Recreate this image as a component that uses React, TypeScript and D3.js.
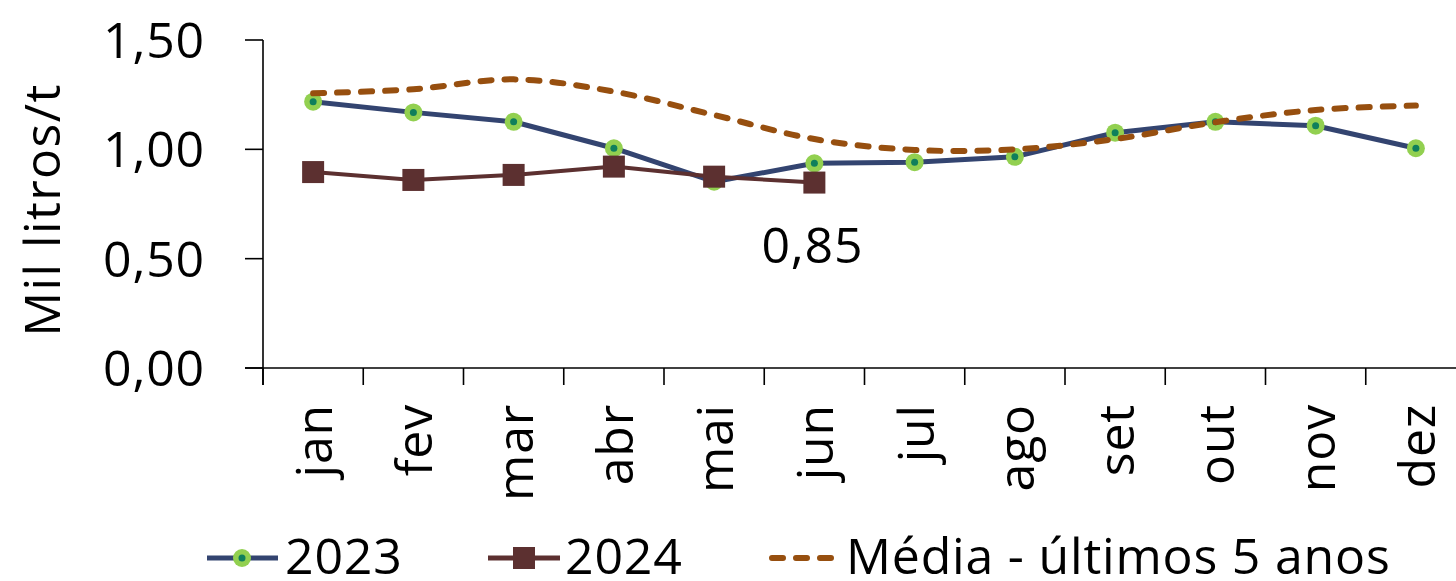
import React from "react";
import * as d3 from "d3";

const months = ["jan", "fev", "mar", "abr", "mai", "jun", "jul", "ago", "set", "out", "nov", "dez"];
const values2023 = [1.218, 1.169, 1.126, 1.005, 0.852, 0.936, 0.941, 0.966, 1.076, 1.126, 1.108, 1.005];
const values2024 = [0.896, 0.86, 0.883, 0.921, 0.875, 0.848];
const valuesMedia = [1.256, 1.275, 1.32, 1.264, 1.157, 1.047, 0.997, 1.0, 1.047, 1.124, 1.18, 1.2];
const yTicks = [0, 0.5, 1.0, 1.5];
const labelText = "0,85";
const legendLabels = ["2023", "2024", "Média - últimos 5 anos"];

const W = 1456;
const H = 581;
const FONT = "'Open Sans', 'Noto Sans', sans-serif";
const FS = 50;
const LS = 0.8;
const C2023 = "#334470";
const CGREEN = "#92d050";
const CDOT = "#0f7f5c";
const C2024 = "#5c3030";
const CMEDIA = "#974f0f";

export default function App() {
  const x = d3.scaleBand<string>().domain(months).range([263, 263 + 12 * 100.25]).padding(0);
  const y = d3.scaleLinear().domain([0, 1.5]).range([368, 40]);
  const bw = x.bandwidth();
  const cx = (m: string) => (x(m) as number) + bw / 2;
  const fmt = (v: number) => v.toFixed(2).replace(".", ",");

  const line = d3
    .line<number>()
    .x((_, i) => cx(months[i]))
    .y((d) => y(d));
  const smooth = d3
    .line<number>()
    .x((_, i) => cx(months[i]))
    .y((d) => y(d))
    .curve(d3.curveCatmullRom.alpha(0.5));

  const tickBoundaries = months.map((m) => x(m) as number);

  return (
    <svg
      width={W}
      height={H}
      style={{ position: "absolute", left: 0, top: 0, background: "#fff" }}
      fontFamily={FONT}
      letterSpacing={LS}
    >
      {/* axes */}
      <line x1={263} x2={263} y1={y(1.5)} y2={385} stroke="#000" strokeWidth={1.6} />
      <line x1={245} x2={W} y1={y(0)} y2={y(0)} stroke="#000" strokeWidth={1.6} />
      {yTicks.map((t) => (
        <g key={t}>
          <line x1={245} x2={263} y1={y(t)} y2={y(t)} stroke="#000" strokeWidth={1.6} />
          <text x={205} y={y(t)} dy="0.36em" textAnchor="end" fontSize={FS} fill="#000">
            {fmt(t)}
          </text>
        </g>
      ))}
      {tickBoundaries.map((b, i) => (
        <line key={i} x1={b} x2={b} y1={y(0)} y2={385} stroke="#000" strokeWidth={1.6} />
      ))}
      {months.map((m) => (
        <text
          key={m}
          transform={`translate(${cx(m)},404) rotate(-90)`}
          dy="0.38em"
          textAnchor="end"
          fontSize={FS}
          fill="#000"
        >
          {m}
        </text>
      ))}
      <text
        transform={`translate(60,210) rotate(-90)`}
        textAnchor="middle"
        fontSize={FS}
        letterSpacing={1.4}
        fill="#000"
      >
        Mil litros/t
      </text>

      {/* 2023 */}
      <path d={line(values2023) || ""} fill="none" stroke={C2023} strokeWidth={5} strokeLinejoin="round" />
      {values2023.map((v, i) => (
        <g key={i}>
          <circle cx={cx(months[i])} cy={y(v)} r={9} fill={CGREEN} />
          <circle cx={cx(months[i])} cy={y(v)} r={3.5} fill={CDOT} />
        </g>
      ))}

      {/* 2024 */}
      <path d={line(values2024) || ""} fill="none" stroke={C2024} strokeWidth={4} strokeLinejoin="round" />
      {values2024.map((v, i) => (
        <rect key={i} x={cx(months[i]) - 11} y={y(v) - 11} width={22} height={22} fill={C2024} />
      ))}

      {/* Média */}
      <path
        d={smooth(valuesMedia) || ""}
        fill="none"
        stroke={CMEDIA}
        strokeWidth={6}
        strokeDasharray="11 13"
        strokeLinecap="round"
      />

      {/* data label */}
      <text
        x={cx(months[5]) - 2}
        y={y(values2024[5]) + 80}
        textAnchor="middle"
        fontSize={FS}
        fill="#000"
      >
        {labelText}
      </text>

      {/* legend */}
      <g>
        <line x1={207} x2={278} y1={558} y2={558} stroke={C2023} strokeWidth={5} />
        <circle cx={242} cy={558} r={9} fill={CGREEN} />
        <circle cx={242} cy={558} r={3.5} fill={CDOT} />
        <text x={285} y={574} fontSize={FS} fill="#000">
          {legendLabels[0]}
        </text>

        <line x1={488} x2={560} y1={558} y2={558} stroke={C2024} strokeWidth={5} />
        <rect x={513} y={547} width={22} height={22} fill={C2024} />
        <text x={565} y={574} fontSize={FS} fill="#000">
          {legendLabels[1]}
        </text>

        <line
          x1={772}
          x2={834}
          y1={558}
          y2={558}
          stroke={CMEDIA}
          strokeWidth={6}
          strokeDasharray="11 13"
          strokeLinecap="round"
        />
        <text x={846} y={574} fontSize={FS} fill="#000">
          {legendLabels[2]}
        </text>
      </g>
    </svg>
  );
}
